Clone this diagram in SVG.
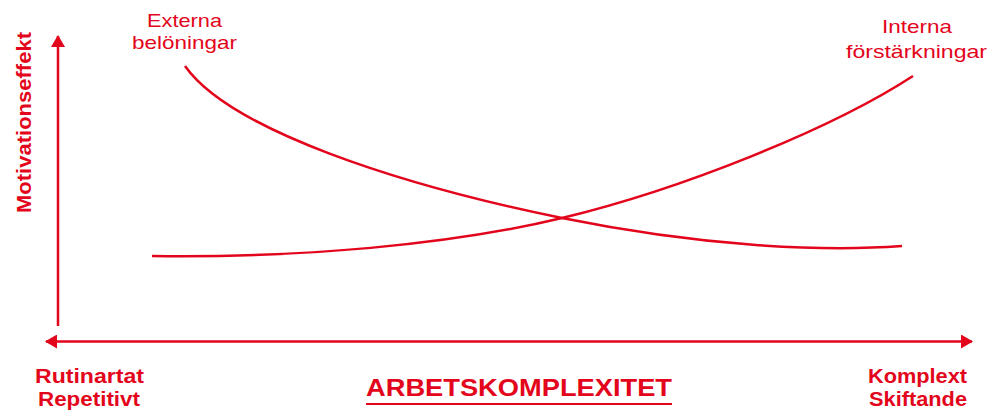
<svg xmlns="http://www.w3.org/2000/svg" width="1002" height="414" viewBox="0 0 1002 414">
  <style>
    .ln { fill: none; stroke: #e3051b; stroke-width: 2.5; }
    .t { fill: #e3051b; font-family: "Liberation Sans", Arial, sans-serif; }
    .b { font-weight: bold; font-size: 19.5px; }
    .r { font-size: 19px; }
  </style>
  <defs>
    <marker id="arrow" viewBox="0 0 12 14" refX="11" refY="7" markerWidth="12" markerHeight="14" markerUnits="userSpaceOnUse" orient="auto">
      <path d="M0,0 L12,7 L0,14 Z" fill="#e3051b"/>
    </marker>
  </defs>

  <!-- axes -->
  <g id="axes">
    <line class="ln" x1="58" y1="326" x2="58" y2="36" marker-end="url(#arrow)"/>
    <line class="ln" x1="58" y1="341.5" x2="46" y2="341.5" marker-end="url(#arrow)"/>
    <line class="ln" x1="58" y1="341.5" x2="972" y2="341.5" marker-end="url(#arrow)"/>
  </g>

  <!-- curves -->
  <g id="connectors">
    <path id="externa-curve" class="ln" d="M185,66 C230,130 400,185 562,218 C700,246 820,252 902,246"/>
    <path id="interna-curve" class="ln" d="M152,256 C300,258 450,245 562,218 C680,189.5 830,130 913,76"/>
  </g>

  <g id="label-externa">
    <text class="t r" x="147" y="27" textLength="75" lengthAdjust="spacingAndGlyphs">Externa</text>
    <text class="t r" x="132" y="49" textLength="105" lengthAdjust="spacingAndGlyphs">belöningar</text>
  </g>
  <g id="label-interna">
    <text class="t r" x="882" y="33" textLength="70" lengthAdjust="spacingAndGlyphs">Interna</text>
    <text class="t r" x="846" y="58" textLength="141" lengthAdjust="spacingAndGlyphs">förstärkningar</text>
  </g>

  <g id="label-y">
    <text class="t b" transform="translate(31,213) rotate(-90)" textLength="181" lengthAdjust="spacingAndGlyphs">Motivationseffekt</text>
  </g>
  <g id="label-left">
    <text class="t b" x="35" y="383" textLength="109" lengthAdjust="spacingAndGlyphs">Rutinartat</text>
    <text class="t b" x="38" y="406" textLength="102" lengthAdjust="spacingAndGlyphs">Repetitivt</text>
  </g>
  <g id="label-right">
    <text class="t b" x="868" y="383" textLength="99" lengthAdjust="spacingAndGlyphs">Komplext</text>
    <text class="t b" x="869" y="406" textLength="98" lengthAdjust="spacingAndGlyphs">Skiftande</text>
  </g>
  <g id="label-x">
    <text class="t" x="366" y="396" font-weight="bold" font-size="23.5" textLength="306" lengthAdjust="spacingAndGlyphs">ARBETSKOMPLEXITET</text>
    <line x1="366" y1="404" x2="672" y2="404" stroke="#e3051b" stroke-width="2"/>
  </g>
</svg>
